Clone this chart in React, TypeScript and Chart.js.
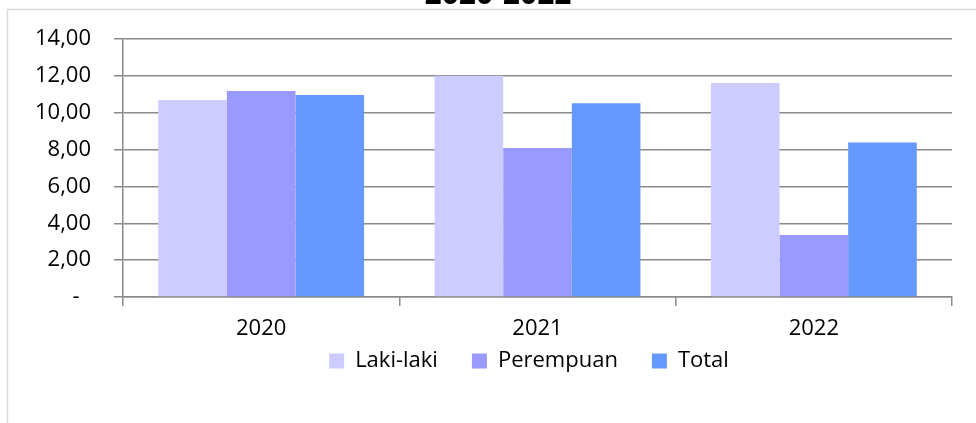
import { useEffect, useRef } from 'react';
import { Chart, registerables } from 'chart.js';

Chart.register(...registerables);

const titleText = '2020-2022';
const categories = ['2020', '2021', '2022'];
const lakiLaki = [10.69, 12.01, 11.61];
const perempuan = [11.18, 8.08, 3.36];
const total = [10.96, 10.52, 8.39];
const yMin = 0;
const yMax = 14;
const yStep = 2;

const FONT = '"Open Sans", "Noto Sans", sans-serif';
const GRID = '#8a8a8a';

const framePlugin = {
  id: 'frame',
  afterLayout(chart: any) {
    const lg = chart.legend;
    if (lg) {
      const h = lg.bottom - lg.top;
      lg.left = 106;
      lg.right = 952;
      lg.width = lg.right - lg.left;
      lg.top = 316;
      lg.bottom = 316 + h;
    }
  },
  beforeDraw(chart: any) {
    const ctx = chart.ctx;
    ctx.save();
    ctx.strokeStyle = '#d9d9d9';
    ctx.lineWidth = 1.5;
    ctx.beginPath();
    ctx.moveTo(7.5, chart.height);
    ctx.lineTo(7.5, 9.5);
    ctx.lineTo(chart.width, 9.5);
    ctx.stroke();
    ctx.restore();
  },
  afterDraw(chart: any) {
    const ctx = chart.ctx;
    ctx.save();
    ctx.fillStyle = '#000';
    ctx.font = `bold 30px ${FONT}`;
    ctx.textAlign = 'center';
    ctx.textBaseline = 'alphabetic';
    ctx.fillText(titleText, 498, 4);
    ctx.restore();
  },
};

export default function App() {
  const ref = useRef<HTMLCanvasElement | null>(null);

  useEffect(() => {
    if (!ref.current) return;
    const chart = new Chart(ref.current, {
      type: 'bar',
      data: {
        labels: categories,
        datasets: [
          { label: 'Laki-laki', data: lakiLaki, backgroundColor: '#CCCCFF', borderWidth: 0 },
          { label: 'Perempuan', data: perempuan, backgroundColor: '#9999FF', borderWidth: 0 },
          { label: 'Total', data: total, backgroundColor: '#6699FF', borderWidth: 0 },
        ],
      },
      options: {
        animation: false,
        responsive: true,
        maintainAspectRatio: false,
        layout: { padding: { left: 0, right: 24, top: 39, bottom: 12 } },
        datasets: { bar: { categoryPercentage: 0.745, barPercentage: 1 } } as any,
        plugins: {
          title: { display: false },
          tooltip: { enabled: false },
          legend: {
            position: 'bottom',
            align: 'center',
            labels: {
              boxWidth: 15,
              boxHeight: 15,
              padding: 34,
              color: '#000',
              font: { family: FONT, size: 22 },
            },
          },
        },
        scales: {
          x: {
            offset: true,
            grid: {
              display: true,
              offset: true,
              drawOnChartArea: false,
              drawTicks: true,
              tickLength: 9,
              color: GRID,
              lineWidth: 1.5,
            },
            border: { display: true, color: GRID, width: 1.5 },
            ticks: { color: '#000', font: { family: FONT, size: 22 }, padding: 10, maxRotation: 0 },
            afterFit: (s: any) => {
              s.height = 48;
              s.paddingLeft = 0;
              s.paddingRight = 0;
            },
          },
          y: {
            min: yMin,
            max: yMax,
            grid: { color: GRID, lineWidth: 1.5, tickLength: 9, drawTicks: true },
            border: { display: true, color: GRID, width: 1.5 },
            ticks: {
              stepSize: yStep,
              padding: 23,
              color: '#000',
              font: { family: FONT, size: 22 },
              callback: (v: any) => (Number(v) === 0 ? '-\u00a0\u00a0' : Number(v).toFixed(2).replace('.', ',')),
            },
            afterFit: (s: any) => {
              s.width = 123;
              s.paddingTop = 0;
              s.paddingBottom = 0;
            },
          },
        },
      },
      plugins: [framePlugin],
    });
    return () => chart.destroy();
  }, []);

  return (
    <div style={{ position: 'fixed', left: 0, top: 0, width: 976, height: 423, background: '#fff' }}>
      <canvas ref={ref} />
    </div>
  );
}
